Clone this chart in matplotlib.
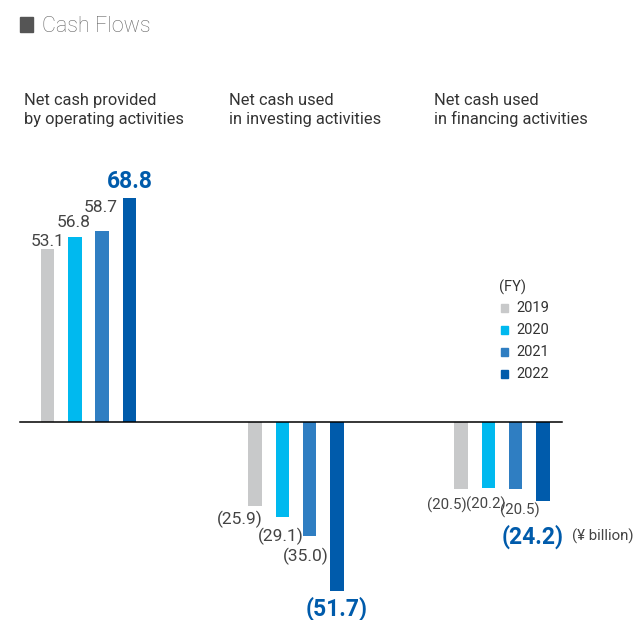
import numpy as np
import matplotlib.pyplot as plt
from matplotlib.patches import Rectangle

plt.rcParams['font.family'] = ['Roboto', 'DejaVu Sans']

# data (¥ billion)
years = ["2019", "2020", "2021", "2022"]
categories = ["Net cash provided\nby operating activities",
              "Net cash used\nin investing activities",
              "Net cash used\nin financing activities"]
operating = [53.1, 56.8, 58.7, 68.8]
investing = [-25.9, -29.1, -35.0, -51.7]
financing = [-20.5, -20.2, -20.5, -24.2]
colors = ["#c8c9ca", "#00b9ef", "#2f7ec2", "#005bab"]

W, H = 640, 620
fig = plt.figure(figsize=(W / 100, H / 100), dpi=100)
ax = fig.add_axes([0, 0, 1, 1])
ax.set_xlim(0, W)
scale = 3.26  # px per unit
base = 422
ax.set_ylim(-(H - base) / scale, base / scale)
ax.axis('off')


def px(x, y):
    return (x / W, 1 - y / H)


# title
fig.patches.append(Rectangle(px(20, 32), 13 / W, 15 / H, transform=fig.transFigure,
                             color="#555555"))
fig.text(*px(42, 26.5), "Cash Flows", fontsize=15.5, color="#666666", va='center',
         fontweight='light')

group_x = [88.5, 296, 502]
for gx, cat in zip([24, 229, 434], categories):
    fig.text(*px(gx, 110), cat, fontsize=11.8, color="#333333", va='center',
             linespacing=1.3)

ax.plot([20, 562], [0, 0], color="black", lw=1.1, zorder=3)

series = [operating, investing, financing]
label_sizes = [12.5, 12.5, 10.8]
# label nudges in pixels (dx, dy) to keep labels apart
nudges = [
    [(0, 3), (-1, 10), (-1, 19), (0, 10)],
    [(-15, -4), (-2, -11), (-4, -12), (0, -6)],
    [(-14, -9), (-3, -9), (4, -14), (-10, -24)],
]
for vals, gx, nd, fs in zip(series, group_x, nudges, label_sizes):
    for i, v in enumerate(vals):
        x = gx + (i - 1.5) * 27.3
        ax.bar(x, v, width=13.5, color=colors[i], zorder=2)
        txt = f"{v:.1f}" if v > 0 else f"({abs(v):.1f})"
        last = i == 3
        ax.annotate(txt, (x, v), xytext=nd[i], textcoords='offset pixels',
                    ha='center', va='baseline' if v > 0 else 'top',
                    fontsize=16.5 if last else fs,
                    fontweight='bold' if last else 'normal',
                    color=colors[3] if last else "#444444")

fig.text(*px(572, 536), "(¥ billion)", fontsize=10.8, color="#444444", va='center')

# legend
fig.text(*px(499, 287), "(FY)", fontsize=10.5, color="#333333", va='center')
for i, (y, c) in enumerate(zip(years, colors)):
    yy = 308 + i * 22
    fig.patches.append(Rectangle(px(501, yy + 4), 7 / W, 8 / H,
                                 transform=fig.transFigure, color=c))
    fig.text(*px(516, yy), y, fontsize=10.5, color="#333333", va='center')

fig.savefig("out.png", dpi=100)
